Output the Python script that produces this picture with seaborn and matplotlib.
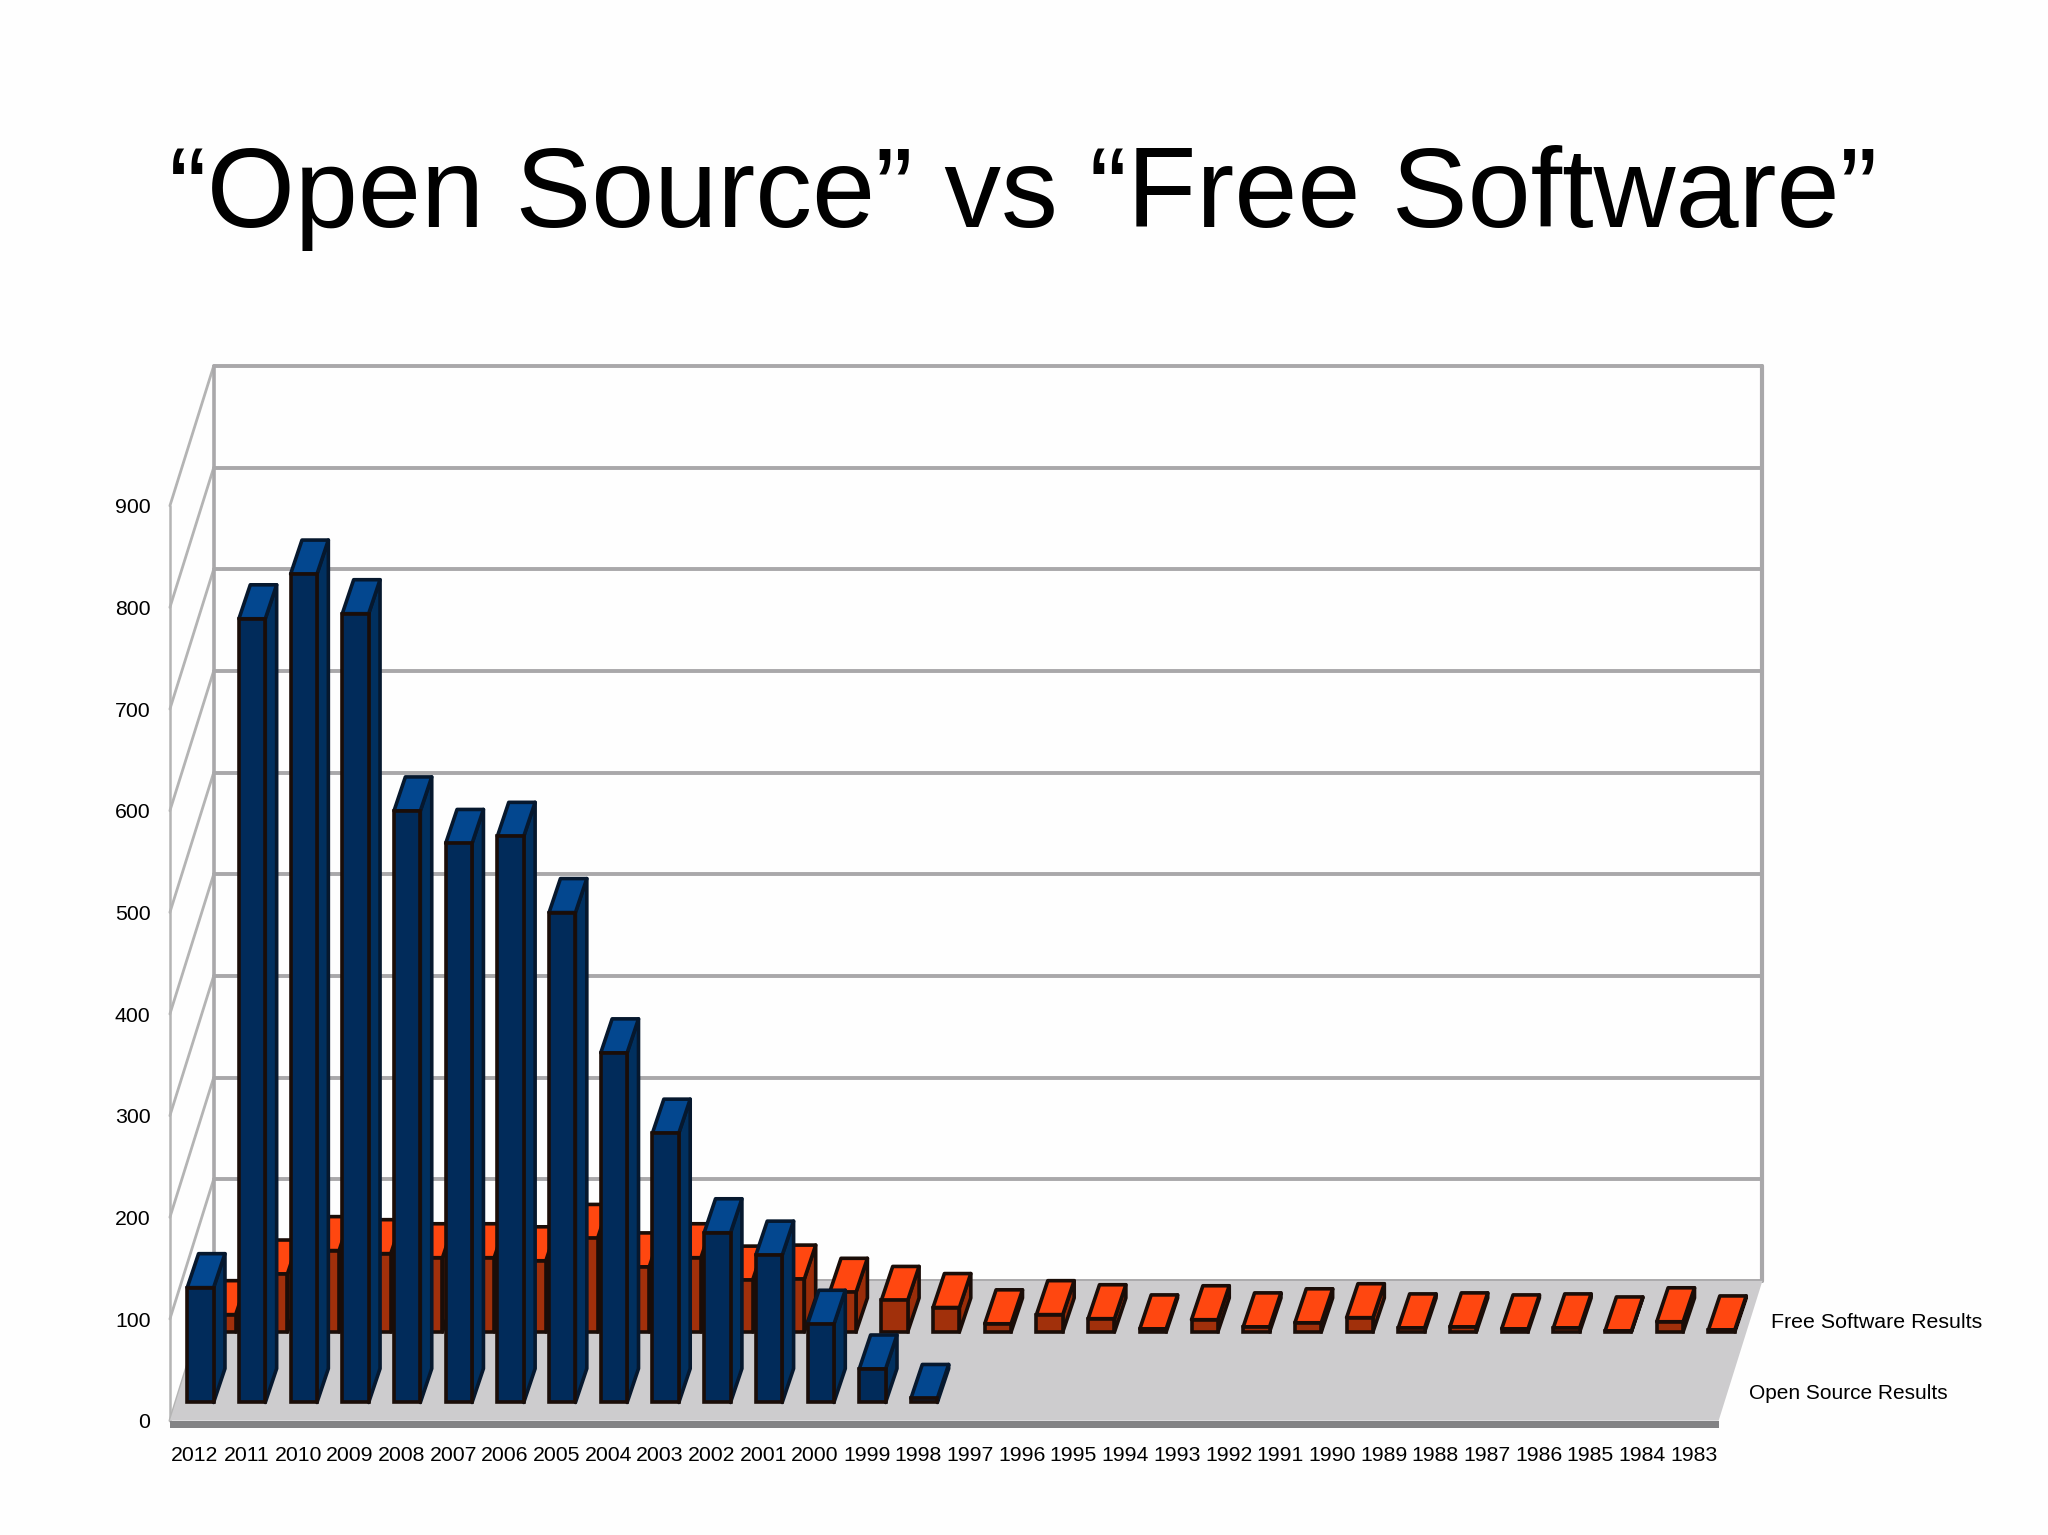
import pandas as pd
import matplotlib.pyplot as plt
import seaborn as sns
from matplotlib.patches import Polygon

# values
years = [str(y) for y in range(2012, 1982, -1)]
open_source = [113, 771, 815, 776, 582, 550, 557, 482, 344, 265, 167, 145, 77, 33, 4,
               0, 0, 0, 0, 0, 0, 0, 0, 0, 0, 0, 0, 0, 0, 0]
free_software = [17, 57, 80, 77, 73, 73, 70, 92, 64, 73, 51, 52, 39, 31, 24,
                 8, 17, 13, 3, 12, 5, 9, 14, 4, 5, 3, 4, 1, 10, 2]
y_ticks = [0, 100, 200, 300, 400, 500, 600, 700, 800, 900]

S = 2048 / 1567  # reference px per px of the preview I measured on
W, H = 2048, 1535

sns.set_theme(style="white")
plt.rcParams["font.family"] = ["Liberation Sans", "DejaVu Sans"]

df = pd.DataFrame({
    "year": years * 2,
    "results": free_software + open_source,
    "series": ["Free Software Results"] * 30 + ["Open Source Results"] * 30,
})

fig = plt.figure(figsize=(W / 100, H / 100), dpi=100, facecolor="#fefefe")
# axes = the front plane of the box
ax = fig.add_axes([130 * S / W, 1 - 1087 * S / H, (1315 - 130) * S / W, 700 * S / H])
ax.patch.set_alpha(0)

sns.barplot(
    data=df, x="year", y="results", hue="series", order=years,
    hue_order=["Free Software Results", "Open Source Results"],
    palette=["#a1300b", "#012b5a"], dodge=False, width=0.51, saturation=1,
    edgecolor="#1a0d08", linewidth=2.6, errorbar=None, legend=False, ax=ax,
)
ax.set_xlim(-0.48, 29.48)
ax.set_ylim(0, 900)

# depth: share of the way from front plane to back wall
DX, DY = 0.847, 137.5
GRID = "#a9a8aa"


def shift(x, y, d):
    return x + d * DX, y + d * DY


# back wall
bx0, by0 = shift(-0.48, 0, 1)
bx1, _ = shift(29.48, 0, 1)
for v in y_ticks:
    ax.plot([bx0, bx1], [by0 + v, by0 + v], color=GRID, lw=2.8, clip_on=False, zorder=1)
    # side wall lines
    ax.plot([-0.48, bx0], [v, by0 + v], color="#b4b4b4", lw=2, clip_on=False, zorder=1)
ax.plot([bx0, bx0], [by0, by0 + 900], color=GRID, lw=2.6, clip_on=False, zorder=1)
ax.plot([bx1, bx1], [by0, by0 + 900], color=GRID, lw=3, clip_on=False, zorder=1)
ax.plot([-0.48, -0.48], [0, 900], color="#b4b4b4", lw=1.8, clip_on=False, zorder=1)

# floor and its front edge
ax.add_patch(Polygon([(-0.48, 0), (29.48, 0), (bx1, by0), (bx0, by0)],
                     fc="#cdccce", ec="none", clip_on=False, zorder=2))
ax.add_patch(Polygon([(-0.48, 0), (29.48, 0), (29.48, -7), (-0.48, -7)],
                     fc="#838385", ec="none", clip_on=False, zorder=2))

# bars: move each front face to its row, then add side and top faces
rows = [
    (ax.containers[0], 0.635, "#ff4710", "#9a2d09", "#1a0d08", 3),
    (ax.containers[1], 0.13, "#03478f", "#01305f", "#06182e", 5),
]
bar_dx, bar_dy = 0.22, 33.4
for bars, depth, top_col, side_col, edge, z in rows:
    for rect in bars:
        h = rect.get_height()
        if h <= 0:
            rect.set_visible(False)
            continue
        x0, y0 = shift(rect.get_x(), 0, depth)
        w = rect.get_width()
        rect.set_x(x0)
        rect.set_y(y0)
        rect.set_clip_on(False)
        rect.set_zorder(z + 1)
        x1, y1 = x0 + w, y0 + h
        ax.add_patch(Polygon(
            [(x1, y0), (x1 + bar_dx, y0 + bar_dy), (x1 + bar_dx, y1 + bar_dy), (x1, y1)],
            fc=side_col, ec=edge, lw=2.6, joinstyle="round", clip_on=False, zorder=z))
        ax.add_patch(Polygon(
            [(x0, y1), (x0 + bar_dx, y1 + bar_dy), (x1 + bar_dx, y1 + bar_dy), (x1, y1)],
            fc=top_col, ec=edge, lw=2.6, joinstyle="round", clip_on=False, zorder=z))

sns.despine(ax=ax, left=True, bottom=True)
ax.set_xlabel("")
ax.set_ylabel("")
ax.set_yticks(y_ticks)
ax.tick_params(axis="x", length=0, pad=18, labelsize=15.3, labelcolor="black")
ax.tick_params(axis="y", length=0, pad=14, labelsize=15.3, labelcolor="black")

fig.text(783 * S / W, 1 - 174 * S / H, "“Open Source” vs “Free Software”",
         fontsize=81.6, ha="center", va="baseline", color="black")
fig.text(1355 * S / W, 1 - 1012 * S / H, "Free Software Results",
         fontsize=15.4, ha="left", va="center", color="black")
fig.text(1338 * S / W, 1 - 1066 * S / H, "Open Source Results",
         fontsize=15, ha="left", va="center", color="black")

plt.savefig("out.png", dpi=100, facecolor=fig.get_facecolor())
